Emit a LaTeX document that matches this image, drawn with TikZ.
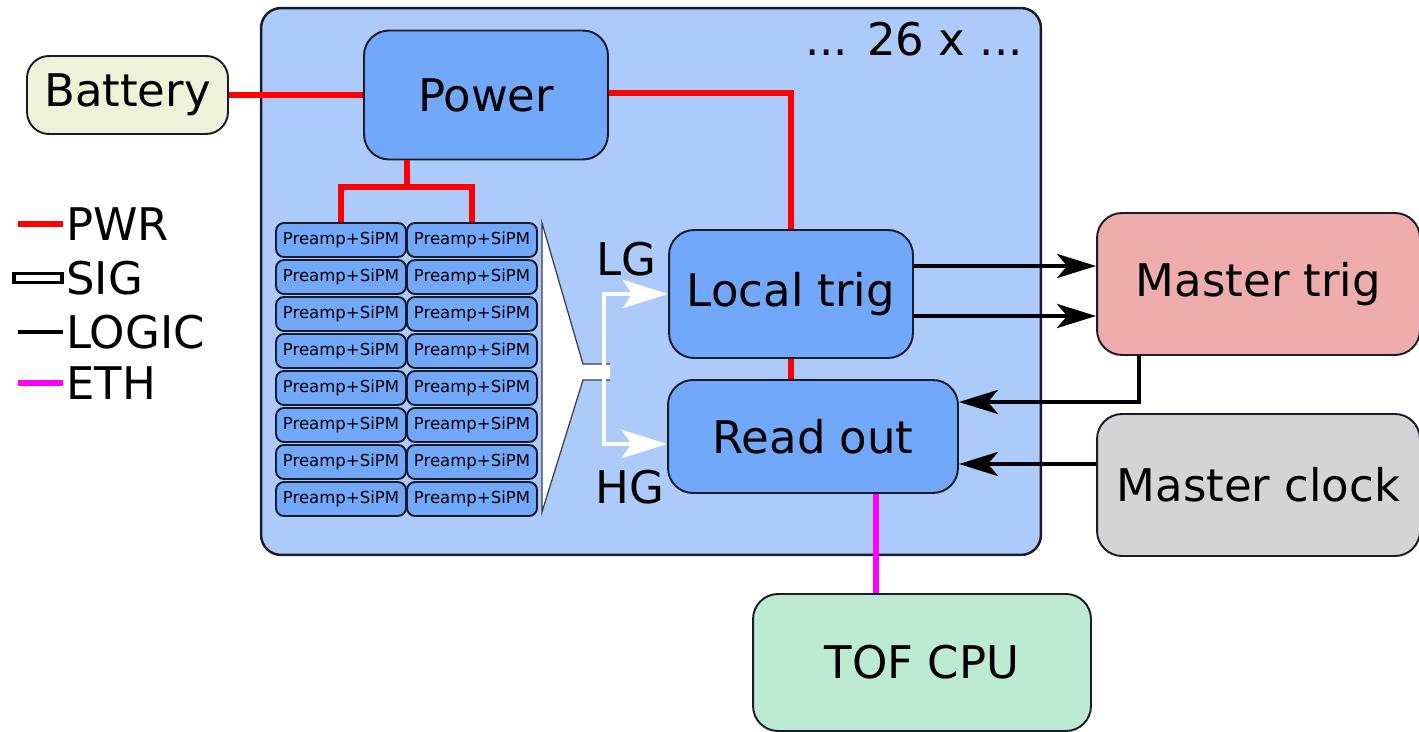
\documentclass[tikz,border=0pt]{standalone}
\usepackage{fontspec}
\setmainfont{DejaVu Sans}
\usetikzlibrary{arrows.meta}
\definecolor{unitfill}{HTML}{ADCBFA}
\definecolor{blockfill}{HTML}{72A8FA}
\definecolor{battfill}{HTML}{EEF2D9}
\definecolor{mtrigfill}{HTML}{EEACAC}
\definecolor{mclockfill}{HTML}{D4D4D4}
\definecolor{cpufill}{HTML}{BDEBD2}
\definecolor{edge}{HTML}{1A1A2A}
\definecolor{pwrred}{HTML}{FF0000}
\definecolor{ethmag}{HTML}{FF00FF}
\begin{document}
\begin{tikzpicture}[x=0.02cm,y=-0.02cm,
  bigfont/.style={font=\fontsize{25.6}{30}\selectfont},
  blk/.style={draw=edge,line width=1.1pt,rounded corners=0.5cm,inner sep=0pt,bigfont},
  inner/.style={blk,fill=blockfill},
  preamp/.style={draw=edge,line width=1.1pt,fill=blockfill,rounded corners=0.16cm,inner sep=0pt,
    minimum width=2.6cm,minimum height=0.68cm,font=\fontsize{9.4}{11}\selectfont},
  pwr/.style={draw=pwrred,line width=3.6pt},
  eth/.style={draw=ethmag,line width=3.2pt},
  logic/.style={draw=black,line width=2.7pt,-{Stealth[length=0.78cm,width=0.48cm,inset=0.2cm]}},
  sig/.style={draw=white,line width=2.3pt,-{Stealth[length=0.9cm,width=0.56cm,inset=0.18cm,fill=white]}},
  lbl/.style={bigfont,inner sep=0pt},
  leg/.style={bigfont,inner sep=0pt,anchor=west}
]
\useasboundingbox (0,0) rectangle (1419,732);

% big unit box
\node[draw=edge,line width=1.4pt,fill=unitfill,rounded corners=0.4cm,minimum width=15.6cm,minimum height=10.94cm,inner sep=0pt] (unit) at (651,281.5) {};
\node[lbl] (count) at (914,39) {... 26 x ...};

% coordinates for connector positions
\coordinate (pbranch) at (407,187);
\coordinate (l1) at (0,266);
\coordinate (l2) at (0,316);
\coordinate (mtx) at (1139,402);
\coordinate (mcy) at (0,464);
\coordinate (ethx) at (876,0);
\coordinate (sigsrc) at (604,372);
\coordinate (hgy) at (0,444);
\coordinate (pwry) at (0,93);

% nodes
\node[blk,fill=battfill,rounded corners=0.44cm,minimum width=4.02cm,minimum height=1.56cm] (battery) at (127.5,95) {Battery};
\node[inner,minimum width=4.88cm,minimum height=2.58cm] (power) at (486,95) {Power};
\node[inner,minimum width=4.88cm,minimum height=2.56cm] (localtrig) at (791,294) {Local trig};
\node[inner,minimum width=5.8cm,minimum height=2.26cm] (readout) at (813,436.5) {Read out};
\node[blk,fill=mtrigfill,minimum width=6.46cm,minimum height=2.84cm] (mastertrig) at (1258.5,284) {Master trig};
\node[blk,fill=mclockfill,minimum width=6.46cm,minimum height=2.84cm] (masterclock) at (1258.5,485) {Master clock};
\node[blk,fill=cpufill,minimum width=6.76cm,minimum height=2.74cm] (tofcpu) at (922,662.5) {TOF CPU};

\foreach \r in {0,...,7} {
  \node[preamp] (pa\r) at (341,240+37*\r) {Preamp+SiPM};
  \node[preamp] (pb\r) at (472,240+37*\r) {Preamp+SiPM};
}

% power lines
\draw[pwr] (battery.east) -- (power.west);
\draw[pwr] (power.east |- pwry) -| (localtrig.north);
\draw[pwr] (pbranch |- power.south) -- (pbranch);
\draw[pwr] (pa0.north) |- (pbranch) -| (pb0.north);
\draw[pwr] (localtrig.south) -- (readout.north -| localtrig.south);

% ethernet
\draw[eth] (readout.south -| ethx) -- (tofcpu.north -| ethx);

% logic
\draw[logic] (localtrig.east |- l1) -- (mastertrig.west |- l1);
\draw[logic] (localtrig.east |- l2) -- (mastertrig.west |- l2);
\draw[logic] (mastertrig.south -| mtx) |- (readout.east |- mtx);
\draw[logic] (masterclock.west |- mcy) -- (readout.east |- mcy);

% signal funnel
\fill[white] (542,223) -- (583,364) -- (610,364) -- (610,380) -- (583,380) -- (542,512) -- cycle;
\draw[edge!85,line width=0.7pt] (610,364) -- (583,364) -- (542,223) -- (542,512) -- (583,380) -- (610,380);
\draw[sig] (sigsrc) |- (localtrig.west);
\draw[sig] (sigsrc) |- (readout.west |- hgy);
\node[lbl] (lg) at (626,259) {LG};
\node[lbl] (hg) at (630,487) {HG};

% legend
\node[leg] (legpwr) at (66,224) {PWR};
\node[leg] (legsig) at (66,278) {SIG};
\node[leg] (leglogic) at (66,332) {LOGIC};
\node[leg] (legeth) at (66,383) {ETH};
\draw[pwr] ([xshift=-0.06cm]legpwr.west) -- ++(-0.9cm,0);
\draw[draw=black,line width=2.2pt,fill=white] ([xshift=-0.08cm,yshift=-0.09cm]legsig.west) rectangle ++(-0.96cm,0.18cm);
\draw[black,line width=2.8pt] ([xshift=-0.06cm]leglogic.west) -- ++(-0.9cm,0);
\draw[eth,line width=3.6pt] ([xshift=-0.06cm]legeth.west) -- ++(-0.9cm,0);
\end{tikzpicture}
\end{document}
